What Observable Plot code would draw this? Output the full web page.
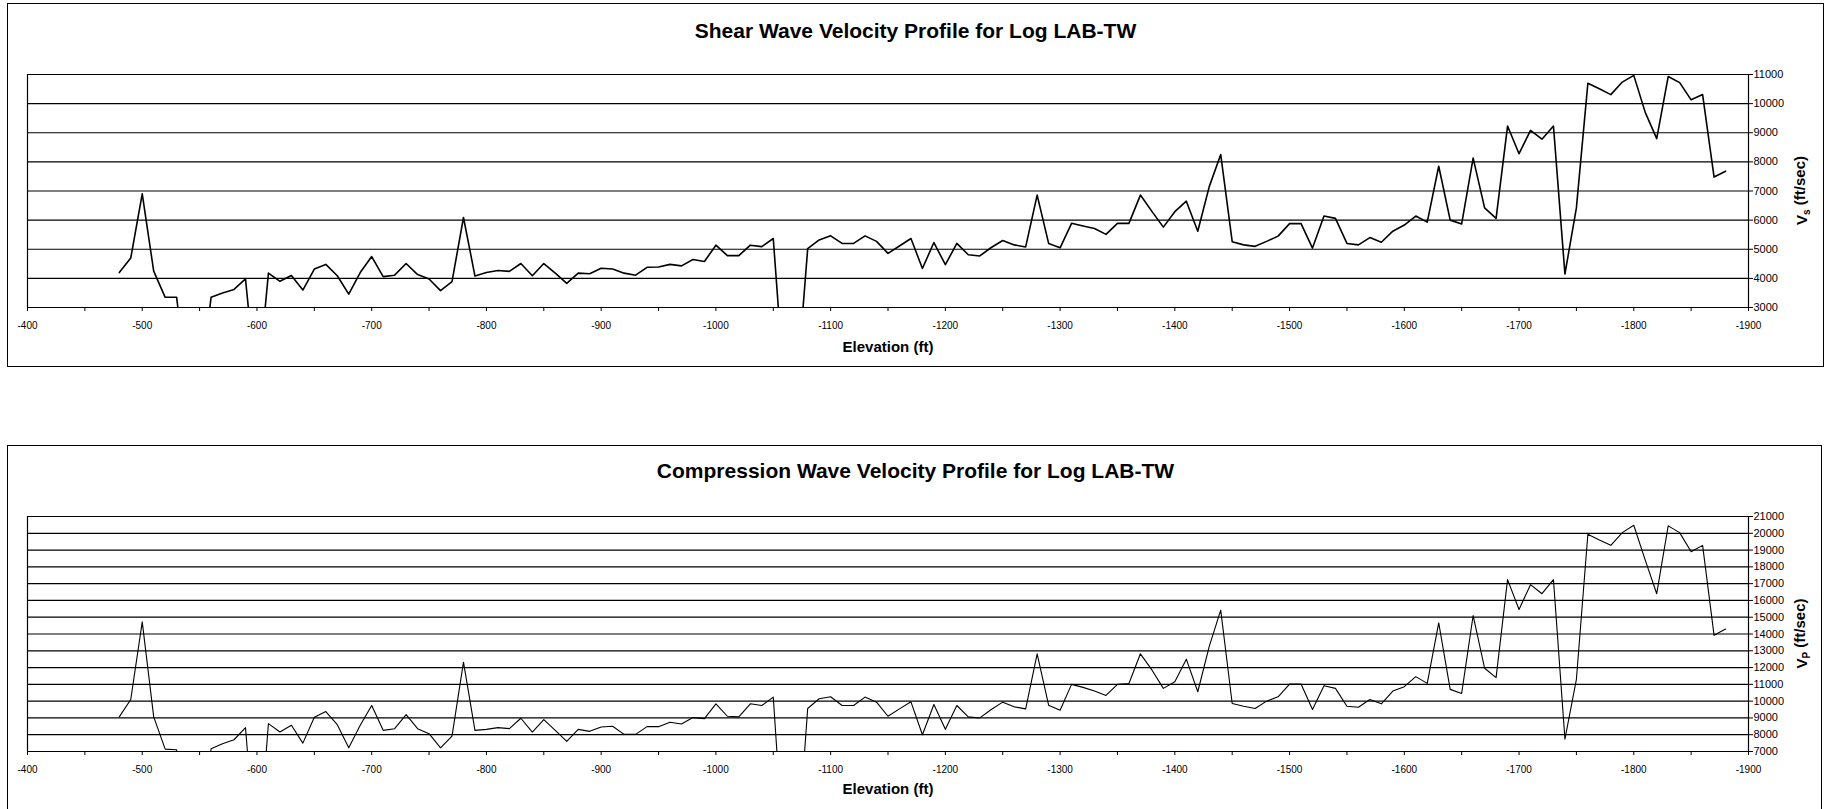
<!DOCTYPE html>
<html>
<head>
<meta charset="utf-8">
<script src="https://cdn.jsdelivr.net/npm/d3@7"></script>
<script src="https://cdn.jsdelivr.net/npm/@observablehq/plot@0.6"></script>
<style>
  html, body { margin: 0; padding: 0; background: #fff; }
  #page { position: relative; width: 1835px; height: 809px; overflow: hidden; font-family: "Liberation Sans", Arial, sans-serif; }
  .box { position: absolute; border: 1px solid #000; box-sizing: border-box; }
  .title { position: absolute; left: 7px; width: 1817px; text-align: center; font-weight: bold; font-size: 21px; line-height: 18px; color: #000; }
  .chart { position: absolute; left: 8px; }
</style>
</head>
<body>
<div id="page">
  <div class="box" style="left:7px;top:3px;width:1817px;height:364px;"></div>
  <div class="box" style="left:7px;top:445px;width:1815px;height:380px;"></div>
  <div class="title" style="top:22px;">Shear Wave Velocity Profile for Log LAB-TW</div>
  <div class="title" style="top:462px;">Compression Wave Velocity Profile for Log LAB-TW</div>
  <div class="chart" id="c1" style="top:50px;"></div>
  <div class="chart" id="c2" style="top:492px;"></div>
</div>
<script>
const elevation = [
  -480,-490,-500,-510,-520,-530,-540,-550,-560,-570,
  -580,-590,-600,-610,-620,-630,-640,-650,-660,-670,
  -680,-690,-700,-710,-720,-730,-740,-750,-760,-770,
  -780,-790,-800,-810,-820,-830,-840,-850,-860,-870,
  -880,-890,-900,-910,-920,-930,-940,-950,-960,-970,
  -980,-990,-1000,-1010,-1020,-1030,-1040,-1050,-1060,-1070,
  -1080,-1090,-1100,-1110,-1120,-1130,-1140,-1150,-1160,-1170,
  -1180,-1190,-1200,-1210,-1220,-1230,-1240,-1250,-1260,-1270,
  -1280,-1290,-1300,-1310,-1320,-1330,-1340,-1350,-1360,-1370,
  -1380,-1390,-1400,-1410,-1420,-1430,-1440,-1450,-1460,-1470,
  -1480,-1490,-1500,-1510,-1520,-1530,-1540,-1550,-1560,-1570,
  -1580,-1590,-1600,-1610,-1620,-1630,-1640,-1650,-1660,-1670,
  -1680,-1690,-1700,-1710,-1720,-1730,-1740,-1750,-1760,-1770,
  -1780,-1790,-1800,-1810,-1820,-1830,-1840,-1850,-1860,-1870,
  -1880
];
const shearVelocity = [
  4200,4700,6900,4250,3350,3350,0,0,3350,3500,
  3620,3980,0,4180,3900,4100,3600,4320,4480,4090,
  3460,4200,4750,4060,4110,4510,4130,3980,3580,3890,
  6090,4080,4200,4270,4240,4510,4090,4510,4180,3830,
  4180,4160,4350,4320,4180,4110,4380,4390,4480,4430,
  4650,4580,5140,4780,4780,5140,5090,5370,0,0,
  5020,5320,5460,5200,5200,5460,5270,4860,5110,5370,
  4340,5230,4470,5200,4810,4770,5060,5300,5150,5080,
  6860,5200,5050,5890,5800,5710,5510,5890,5890,6860,
  6300,5760,6290,6650,5620,7150,8250,5260,5150,5100,
  5270,5450,5880,5880,5040,6140,6060,5200,5150,5400,
  5240,5620,5830,6140,5930,7850,6000,5870,8130,6420,
  6060,9230,8280,9080,8780,9230,4150,6420,10700,10510,
  10310,10740,10970,9700,8800,10930,10720,10130,10310,7480,
  7680
];
const compressionVelocity = [
  9060,10100,14720,9060,7140,7100,0,0,7160,7460,
  7700,8420,0,8660,8160,8560,7500,9040,9380,8600,
  7220,8560,9740,8260,8360,9200,8360,8060,7220,7920,
  12320,8260,8320,8420,8360,8980,8160,8900,8260,7600,
  8320,8200,8460,8500,8020,8020,8480,8480,8740,8640,
  9020,8960,9840,9100,9060,9840,9740,10240,0,0,
  9560,10140,10260,9740,9740,10240,9940,9100,9540,9960,
  8000,9800,8320,9740,9060,9000,9500,9940,9660,9540,
  12820,9760,9460,11000,10820,10600,10340,11000,11050,12820,
  11860,10760,11160,12500,10560,13260,15420,9860,9700,9560,
  10000,10260,11020,11020,9500,10920,10760,9700,9640,10100,
  9840,10600,10860,11460,11060,14660,10700,10460,15100,11960,
  11400,17240,15460,16940,16400,17240,7740,11300,19940,19600,
  19280,20040,20480,18400,16400,20440,20040,18900,19280,13920,
  14300
];
const xTicks = [-400,-450,-500,-550,-600,-650,-700,-750,-800,-850,-900,-950,-1000,-1050,-1100,-1150,-1200,-1250,-1300,-1350,-1400,-1450,-1500,-1550,-1600,-1650,-1700,-1750,-1800,-1850,-1900];
const shearTicks = [3000,4000,5000,6000,7000,8000,9000,10000,11000];
const compressionTicks = [7000,8000,9000,10000,11000,12000,13000,14000,15000,16000,17000,18000,19000,20000,21000];
const xLabel = "Elevation (ft)";

function makeChart(values, yTicks, lineWidth, sub, labelDy, plotHeight) {
  const rows = elevation.map((e, i) => ({elev: e, v: values[i]}));
  const fig = Plot.plot({
    width: 1815,
    height: 310,
    marginLeft: 19,
    marginRight: 75,
    marginTop: 24,
    marginBottom: 310 - 24 - plotHeight,
    style: {fontFamily: '"Liberation Sans", Arial, sans-serif', background: "none", color: "#000", overflow: "visible"},
    x: {domain: [-400, -1900]},
    y: {domain: [yTicks[0], yTicks[yTicks.length - 1]]},
    marks: [
      Plot.gridY({ticks: yTicks, stroke: "#000", strokeOpacity: 1, strokeWidth: 1.2}),
      Plot.ruleX([-400, -1900], {stroke: "#000", strokeWidth: 1.2}),
      Plot.axisX({ticks: xTicks, tickFormat: d => (d % 100 === 0 ? String(d) : ""), tickSize: 4, tickPadding: 10, fontSize: 10, label: null, stroke: "#000"}),
      Plot.axisY({ticks: yTicks, anchor: "right", tickFormat: d => String(d), tickSize: 4, tickPadding: 1, fontSize: 11, label: null}),
      Plot.line(rows, {x: "elev", y: "v", stroke: "#000", strokeWidth: lineWidth, clip: true}),
      Plot.text([xLabel], {frameAnchor: "bottom", dy: labelDy, fontSize: 15, fontWeight: "bold", fill: "#000"})
    ]
  });
  const xs = fig.scale("x"), ys = fig.scale("y");
  const cx = xs.apply(-1900) + 55;
  const cy = (ys.apply(yTicks[0]) + ys.apply(yTicks[yTicks.length - 1])) / 2;
  const t = d3.select(fig).append("text")
    .attr("transform", `translate(${cx},${cy}) rotate(-90)`)
    .attr("text-anchor", "middle")
    .attr("dominant-baseline", "middle")
    .attr("font-size", 15)
    .attr("font-weight", "bold")
    .attr("fill", "#000");
  t.append("tspan").text("V");
  t.append("tspan").attr("font-size", 10).attr("dy", "0.35em").text(sub);
  t.append("tspan").attr("dy", "-0.35em").text(" (ft/sec)");
  return fig;
}

document.getElementById("c1").appendChild(makeChart(shearVelocity, shearTicks, 1.6, "s", 44, 233));
document.getElementById("c2").appendChild(makeChart(compressionVelocity, compressionTicks, 1.1, "P", 42, 235));
</script>
</body>
</html>
